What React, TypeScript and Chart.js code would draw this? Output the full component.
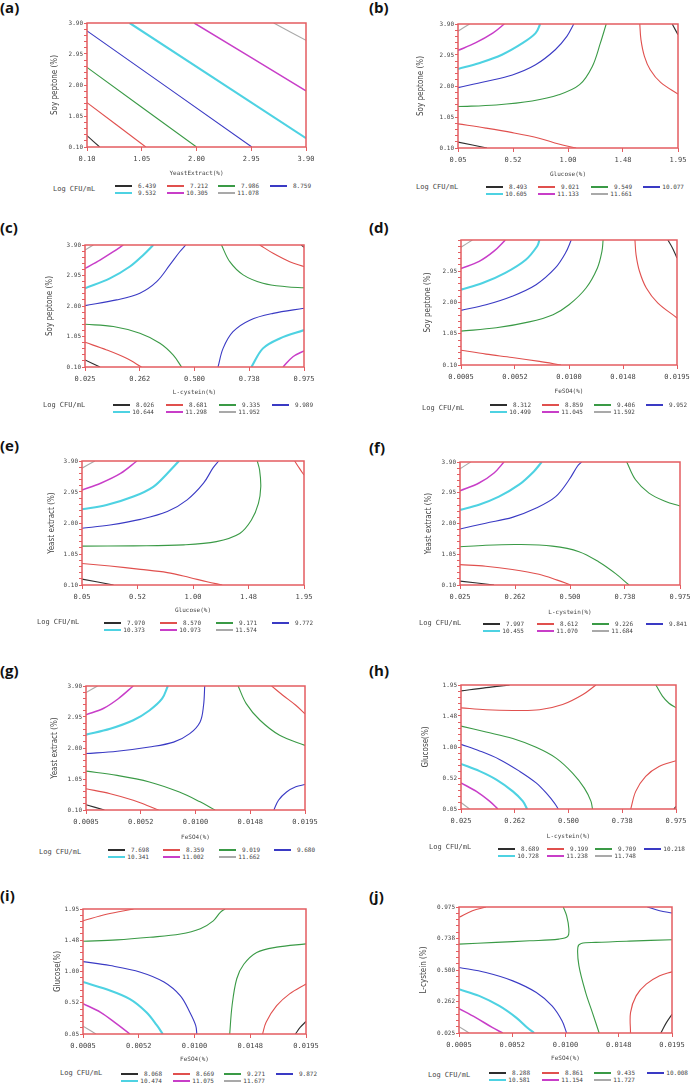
import React, { useEffect, useRef } from "react";
import { Chart, registerables } from "chart.js";
Chart.register(...registerables);

type Pt = [number, number];
type Contour = { level: number; pts: Pt[] };

// ---------- tick labels ----------
const soyPeptoneTicks = ["0.10", "1.05", "2.00", "2.95", "3.90"];
const yeastExtractTicks = ["0.10", "1.05", "2.00", "2.95", "3.90"];
const glucoseTicks = ["0.05", "0.52", "1.00", "1.48", "1.95"];
const cysteinTicks = ["0.025", "0.262", "0.500", "0.738", "0.975"];
const feso4Ticks = ["0.0005", "0.0052", "0.0100", "0.0148", "0.0195"];

// ---------- contour levels (Log CFU/mL) ----------
const levelsA = ["6.439", "7.212", "7.986", "8.759", "9.532", "10.305", "11.078"];
const levelsB = ["8.493", "9.021", "9.549", "10.077", "10.605", "11.133", "11.661"];
const levelsC = ["8.026", "8.681", "9.335", "9.989", "10.644", "11.298", "11.952"];
const levelsD = ["8.312", "8.859", "9.406", "9.952", "10.499", "11.045", "11.592"];
const levelsE = ["7.970", "8.570", "9.171", "9.772", "10.373", "10.973", "11.574"];
const levelsF = ["7.997", "8.612", "9.226", "9.841", "10.455", "11.070", "11.684"];
const levelsG = ["7.698", "8.359", "9.019", "9.680", "10.341", "11.002", "11.662"];
const levelsH = ["8.689", "9.199", "9.709", "10.218", "10.728", "11.238", "11.748"];
const levelsI = ["8.068", "8.669", "9.271", "9.872", "10.474", "11.075", "11.677"];
const levelsJ = ["8.288", "8.861", "9.435", "10.008", "10.581", "11.154", "11.727"];

// ---------- contour lines (x, y in data units) ----------
const linesA: Contour[] = [
  { level: 0, pts: [[0.10, 0.45], [0.32, 0.10]] },
  { level: 1, pts: [[0.10, 1.46], [1.12, 0.10]] },
  { level: 2, pts: [[0.10, 2.54], [2.00, 0.10]] },
  { level: 3, pts: [[0.10, 3.66], [2.96, 0.10]] },
  { level: 4, pts: [[0.84, 3.90], [3.90, 0.37]] },
  { level: 5, pts: [[1.96, 3.90], [3.90, 1.82]] },
  { level: 6, pts: [[3.34, 3.90], [3.90, 3.37]] },
];
const linesB: Contour[] = [
  { level: 0, pts: [[0.05, 0.28], [0.30, 0.10]] },
  { level: 0, pts: [[1.90, 3.90], [1.95, 3.57]] },
  { level: 1, pts: [[0.05, 0.84], [0.29, 0.71], [0.52, 0.57], [0.75, 0.40], [0.92, 0.22], [1.07, 0.10]] },
  { level: 1, pts: [[1.62, 3.90], [1.63, 3.42], [1.66, 2.91], [1.71, 2.50], [1.80, 2.11], [1.95, 1.75]] },
  { level: 2, pts: [[0.05, 1.37], [0.38, 1.42], [0.69, 1.54], [0.92, 1.73], [1.10, 2.04], [1.21, 2.60], [1.28, 3.32], [1.33, 3.90]] },
  { level: 3, pts: [[0.05, 1.95], [0.29, 2.14], [0.52, 2.34], [0.72, 2.65], [0.89, 3.11], [0.99, 3.52], [1.05, 3.90]] },
  { level: 4, pts: [[0.05, 2.52], [0.23, 2.70], [0.43, 2.96], [0.61, 3.32], [0.72, 3.62], [0.76, 3.90]] },
  { level: 5, pts: [[0.05, 3.09], [0.20, 3.32], [0.35, 3.62], [0.45, 3.90]] },
  { level: 6, pts: [[0.05, 3.68], [0.15, 3.90]] },
];
const linesC: Contour[] = [
  { level: 0, pts: [[0.025, 0.32], [0.090, 0.10]] },
  { level: 0, pts: [[0.963, 3.90], [0.975, 3.83]] },
  { level: 1, pts: [[0.025, 0.87], [0.119, 0.63], [0.205, 0.37], [0.270, 0.10]] },
  { level: 1, pts: [[0.783, 3.90], [0.841, 3.64], [0.913, 3.38], [0.975, 3.23]] },
  { level: 2, pts: [[0.025, 1.43], [0.148, 1.36], [0.263, 1.15], [0.350, 0.84], [0.408, 0.47], [0.444, 0.10]] },
  { level: 2, pts: [[0.617, 3.90], [0.653, 3.38], [0.711, 2.97], [0.797, 2.71], [0.898, 2.60], [0.975, 2.57]] },
  { level: 3, pts: [[0.025, 2.01], [0.162, 2.19], [0.263, 2.40], [0.336, 2.76], [0.393, 3.28], [0.436, 3.69], [0.462, 3.90]] },
  { level: 3, pts: [[0.602, 0.10], [0.624, 0.68], [0.667, 1.20], [0.740, 1.56], [0.841, 1.77], [0.975, 1.93]] },
  { level: 4, pts: [[0.025, 2.55], [0.133, 2.86], [0.220, 3.23], [0.278, 3.59], [0.321, 3.90]] },
  { level: 4, pts: [[0.747, 0.10], [0.797, 0.68], [0.870, 0.99], [0.975, 1.25]] },
  { level: 5, pts: [[0.025, 3.17], [0.090, 3.43], [0.148, 3.69], [0.191, 3.90]] },
  { level: 5, pts: [[0.884, 0.10], [0.927, 0.42], [0.975, 0.60]] },
  { level: 6, pts: [[0.025, 3.74], [0.061, 3.90]] },
];
const linesD: Contour[] = [
  { level: 0, pts: [[0.0187, 3.90], [0.0191, 3.66], [0.0195, 3.35]] },
  { level: 1, pts: [[0.0005, 0.55], [0.0027, 0.43], [0.0050, 0.33], [0.0074, 0.21], [0.0093, 0.10]] },
  { level: 1, pts: [[0.0158, 3.90], [0.0159, 3.45], [0.0162, 2.95], [0.0168, 2.44], [0.0178, 1.99], [0.0195, 1.53]] },
  { level: 2, pts: [[0.0005, 1.13], [0.0036, 1.23], [0.0065, 1.41], [0.0086, 1.63], [0.0100, 1.93], [0.0115, 2.44], [0.0125, 3.05], [0.0129, 3.56], [0.0130, 3.90]] },
  { level: 3, pts: [[0.0005, 1.76], [0.0027, 1.93], [0.0050, 2.19], [0.0071, 2.54], [0.0088, 3.05], [0.0097, 3.51], [0.0102, 3.90]] },
  { level: 4, pts: [[0.0005, 2.39], [0.0024, 2.59], [0.0044, 2.90], [0.0062, 3.30], [0.0072, 3.71], [0.0074, 3.90]] },
  { level: 5, pts: [[0.0005, 3.03], [0.0021, 3.25], [0.0034, 3.56], [0.0044, 3.90]] },
  { level: 6, pts: [[0.0005, 3.68], [0.0015, 3.90]] },
];
const linesE: Contour[] = [
  { level: 0, pts: [[0.05, 0.28], [0.32, 0.10]] },
  { level: 1, pts: [[0.05, 0.76], [0.29, 0.68], [0.55, 0.58], [0.78, 0.48], [0.97, 0.33], [1.12, 0.20], [1.25, 0.10]] },
  { level: 1, pts: [[1.87, 3.90], [1.91, 3.68], [1.95, 3.47]] },
  { level: 2, pts: [[0.05, 1.29], [0.49, 1.30], [0.92, 1.33], [1.20, 1.43], [1.40, 1.68], [1.50, 2.09], [1.56, 2.60], [1.58, 3.11], [1.57, 3.62], [1.55, 3.90]] },
  { level: 3, pts: [[0.05, 1.84], [0.29, 1.94], [0.55, 2.11], [0.78, 2.35], [0.95, 2.71], [1.09, 3.22], [1.17, 3.68], [1.22, 3.90]] },
  { level: 4, pts: [[0.05, 2.42], [0.26, 2.55], [0.49, 2.81], [0.66, 3.11], [0.78, 3.52], [0.88, 3.90]] },
  { level: 5, pts: [[0.05, 3.01], [0.21, 3.22], [0.38, 3.52], [0.52, 3.90]] },
  { level: 6, pts: [[0.05, 3.68], [0.16, 3.90]] },
];
const linesF: Contour[] = [
  { level: 0, pts: [[0.025, 0.22], [0.172, 0.10]] },
  { level: 1, pts: [[0.025, 0.73], [0.136, 0.68], [0.251, 0.58], [0.366, 0.43], [0.445, 0.25], [0.503, 0.10]] },
  { level: 2, pts: [[0.025, 1.28], [0.136, 1.33], [0.280, 1.35], [0.424, 1.30], [0.539, 1.13], [0.625, 0.81], [0.697, 0.45], [0.755, 0.10]] },
  { level: 2, pts: [[0.745, 3.90], [0.783, 3.35], [0.841, 2.94], [0.913, 2.68], [0.975, 2.54]] },
  { level: 3, pts: [[0.025, 1.83], [0.136, 2.01], [0.251, 2.19], [0.352, 2.47], [0.438, 2.83], [0.496, 3.35], [0.532, 3.77], [0.550, 3.90]] },
  { level: 4, pts: [[0.025, 2.42], [0.107, 2.58], [0.193, 2.83], [0.280, 3.20], [0.344, 3.61], [0.378, 3.90]] },
  { level: 5, pts: [[0.025, 3.01], [0.107, 3.25], [0.172, 3.56], [0.215, 3.90]] },
  { level: 6, pts: [[0.025, 3.69], [0.071, 3.90]] },
];
const linesG: Contour[] = [
  { level: 0, pts: [[0.0005, 0.26], [0.0021, 0.10]] },
  { level: 1, pts: [[0.0005, 0.75], [0.0026, 0.60], [0.0046, 0.40], [0.0058, 0.24], [0.0068, 0.10]] },
  { level: 1, pts: [[0.0166, 3.90], [0.0176, 3.61], [0.0187, 3.31], [0.0195, 3.05]] },
  { level: 2, pts: [[0.0005, 1.29], [0.0032, 1.16], [0.0060, 0.96], [0.0086, 0.65], [0.0104, 0.35], [0.0117, 0.10]] },
  { level: 2, pts: [[0.0137, 3.90], [0.0144, 3.36], [0.0156, 2.85], [0.0173, 2.39], [0.0195, 2.08]] },
  { level: 3, pts: [[0.0005, 1.83], [0.0032, 1.90], [0.0060, 2.03], [0.0081, 2.18], [0.0095, 2.44], [0.0104, 2.80], [0.0107, 3.31], [0.0108, 3.90]] },
  { level: 3, pts: [[0.0168, 0.10], [0.0172, 0.40], [0.0179, 0.65], [0.0187, 0.81], [0.0195, 0.88]] },
  { level: 4, pts: [[0.0005, 2.41], [0.0026, 2.59], [0.0046, 2.85], [0.0060, 3.15], [0.0071, 3.51], [0.0076, 3.90]] },
  { level: 5, pts: [[0.0005, 3.02], [0.0020, 3.21], [0.0033, 3.51], [0.0046, 3.90]] },
  { level: 6, pts: [[0.0005, 3.70], [0.0015, 3.90]] },
];
const linesH: Contour[] = [
  { level: 0, pts: [[0.025, 1.86], [0.136, 1.91], [0.240, 1.95]] },
  { level: 0, pts: [[0.966, 0.05], [0.975, 0.09]] },
  { level: 1, pts: [[0.025, 1.60], [0.136, 1.57], [0.254, 1.56], [0.372, 1.57], [0.474, 1.65], [0.562, 1.80], [0.621, 1.95]] },
  { level: 1, pts: [[0.775, 0.05], [0.797, 0.32], [0.841, 0.55], [0.900, 0.70], [0.975, 0.79]] },
  { level: 2, pts: [[0.025, 1.32], [0.136, 1.23], [0.254, 1.13], [0.357, 0.995], [0.445, 0.83], [0.518, 0.60], [0.570, 0.37], [0.599, 0.17], [0.606, 0.05]] },
  { level: 2, pts: [[0.886, 1.95], [0.915, 1.78], [0.944, 1.67], [0.975, 1.60]] },
  { level: 3, pts: [[0.025, 1.04], [0.107, 0.94], [0.195, 0.81], [0.283, 0.63], [0.357, 0.45], [0.408, 0.27], [0.438, 0.14], [0.455, 0.05]] },
  { level: 4, pts: [[0.025, 0.74], [0.107, 0.63], [0.181, 0.50], [0.254, 0.32], [0.298, 0.17], [0.317, 0.05]] },
  { level: 5, pts: [[0.025, 0.45], [0.093, 0.32], [0.151, 0.17], [0.188, 0.05]] },
  { level: 6, pts: [[0.025, 0.15], [0.063, 0.05]] },
];
const linesI: Contour[] = [
  { level: 0, pts: [[0.0186, 0.05], [0.0190, 0.15], [0.0195, 0.24]] },
  { level: 1, pts: [[0.0005, 1.77], [0.0025, 1.87], [0.0048, 1.95]] },
  { level: 1, pts: [[0.0158, 0.05], [0.0161, 0.23], [0.0170, 0.48], [0.0181, 0.66], [0.0195, 0.81]] },
  { level: 2, pts: [[0.0005, 1.46], [0.0034, 1.48], [0.0062, 1.52], [0.0088, 1.57], [0.0105, 1.65], [0.0116, 1.77], [0.0122, 1.90], [0.0126, 1.95]] },
  { level: 2, pts: [[0.0130, 0.05], [0.0132, 0.48], [0.0136, 0.89], [0.0142, 1.11], [0.0153, 1.29], [0.0170, 1.37], [0.0195, 1.42]] },
  { level: 3, pts: [[0.0005, 1.15], [0.0028, 1.09], [0.0054, 0.99], [0.0074, 0.84], [0.0088, 0.63], [0.0096, 0.38], [0.0101, 0.18], [0.0102, 0.05]] },
  { level: 4, pts: [[0.0005, 0.84], [0.0025, 0.73], [0.0045, 0.58], [0.0059, 0.38], [0.0068, 0.18], [0.0073, 0.05]] },
  { level: 5, pts: [[0.0005, 0.51], [0.0020, 0.38], [0.0034, 0.20], [0.0045, 0.05]] },
  { level: 6, pts: [[0.0005, 0.17], [0.0016, 0.05]] },
];
const linesJ: Contour[] = [
  { level: 0, pts: [[0.0185, 0.025], [0.0190, 0.103], [0.0195, 0.166]] },
  { level: 1, pts: [[0.0005, 0.897], [0.0017, 0.947], [0.0029, 0.975]] },
  { level: 1, pts: [[0.0158, 0.025], [0.0158, 0.179], [0.0163, 0.305], [0.0172, 0.393], [0.0184, 0.456], [0.0195, 0.486]] },
  { level: 2, pts: [[0.0005, 0.695], [0.0038, 0.708], [0.0068, 0.720], [0.0094, 0.733], [0.0102, 0.753], [0.0103, 0.809], [0.0101, 0.910], [0.0098, 0.975]] },
  { level: 2, pts: [[0.0195, 0.728], [0.0157, 0.718], [0.0127, 0.708], [0.0114, 0.700], [0.0111, 0.670], [0.0112, 0.531], [0.0118, 0.330], [0.0124, 0.179], [0.0130, 0.025]] },
  { level: 3, pts: [[0.0005, 0.519], [0.0029, 0.481], [0.0053, 0.418], [0.0074, 0.330], [0.0088, 0.229], [0.0097, 0.115], [0.0101, 0.025]] },
  { level: 3, pts: [[0.0173, 0.975], [0.0184, 0.947], [0.0195, 0.930]] },
  { level: 4, pts: [[0.0005, 0.355], [0.0023, 0.305], [0.0041, 0.229], [0.0056, 0.141], [0.0066, 0.065], [0.0072, 0.025]] },
  { level: 5, pts: [[0.0005, 0.209], [0.0020, 0.141], [0.0035, 0.065], [0.0044, 0.025]] },
  { level: 6, pts: [[0.0005, 0.073], [0.0014, 0.025]] },
];

// ---------- styling ----------
const levelColors = ["#2e2e2e", "#e0504e", "#3a9a46", "#3a3ac4", "#4ed2e2", "#c83ec8", "#a9a9a9"];
const levelWidths = [1.1, 1.1, 1.1, 1.1, 2.1, 1.5, 1.1];
const FRAME = "#e45c60";
const TEXT = "#444";
const MONO = "'DejaVu Sans Mono', 'Liberation Mono', monospace";
const NARROW = "'Liberation Sans Narrow', 'DejaVu Sans Condensed', 'Roboto Condensed', 'Liberation Sans', sans-serif";

const YW = 56; // y-axis box width
const PT = 8; // top padding
const PR = 18; // right padding
const XH = 34; // x-axis box height

type PanelSpec = {
  label: string;
  labelPos: [number, number];
  plot: [number, number, number, number];
  xTicks: string[];
  yTicks: string[];
  xTitle: string;
  yTitle: string;
  xTitleGap: number;
  yTitleGap: number;
  hideTopY?: boolean;
  levels: string[];
  lines: Contour[];
  legend: { logX: number; logY: number; itemsX: number; col: number; row1: number; row2: number };
};

const panels: PanelSpec[] = [
  { label: "(a)", labelPos: [0, -3], plot: [87, 23, 306, 147], xTicks: yeastExtractTicks, yTicks: soyPeptoneTicks, xTitle: "YeastExtract(%)", yTitle: "Soy peptone (%)", xTitleGap: 26, yTitleGap: 32, levels: levelsA, lines: linesA, legend: { logX: 53, logY: 189, itemsX: 115, col: 51.7, row1: 186, row2: 193 } },
  { label: "(b)", labelPos: [369, -3], plot: [458, 24, 678, 148], xTicks: glucoseTicks, yTicks: soyPeptoneTicks, xTitle: "Glucose(%)", yTitle: "Soy peptone (%)", xTitleGap: 26, yTitleGap: 37, levels: levelsB, lines: linesB, legend: { logX: 416, logY: 187, itemsX: 486, col: 52.3, row1: 187, row2: 194 } },
  { label: "(c)", labelPos: [0, 217], plot: [85, 245, 304, 367], xTicks: cysteinTicks, yTicks: soyPeptoneTicks, xTitle: "L-cystein(%)", yTitle: "Soy peptone (%)", xTitleGap: 25, yTitleGap: 35, levels: levelsC, lines: linesC, legend: { logX: 43, logY: 405, itemsX: 113, col: 53, row1: 405, row2: 412 } },
  { label: "(d)", labelPos: [369, 217], plot: [461, 240, 677, 365], xTicks: feso4Ticks, yTicks: soyPeptoneTicks, xTitle: "FeSO4(%)", yTitle: "Soy peptone (%)", xTitleGap: 26, yTitleGap: 33, hideTopY: true, levels: levelsD, lines: linesD, legend: { logX: 422, logY: 408, itemsX: 490, col: 52, row1: 405, row2: 412 } },
  { label: "(e)", labelPos: [0, 435], plot: [82, 461, 304, 585], xTicks: glucoseTicks, yTicks: yeastExtractTicks, xTitle: "Glucose(%)", yTitle: "Yeast extract (%)", xTitleGap: 25, yTitleGap: 30, levels: levelsE, lines: linesE, legend: { logX: 37, logY: 622, itemsX: 104, col: 56, row1: 623, row2: 630 } },
  { label: "(f)", labelPos: [369, 437], plot: [460, 462, 680, 585], xTicks: cysteinTicks, yTicks: yeastExtractTicks, xTitle: "L-cystein(%)", yTitle: "Yeast extract (%)", xTitleGap: 27, yTitleGap: 31, levels: levelsF, lines: linesF, legend: { logX: 419, logY: 623, itemsX: 483, col: 54.3, row1: 624, row2: 631 } },
  { label: "(g)", labelPos: [0, 660], plot: [86, 686, 305, 810], xTicks: feso4Ticks, yTicks: yeastExtractTicks, xTitle: "FeSO4(%)", yTitle: "Yeast extract (%)", xTitleGap: 27, yTitleGap: 31, levels: levelsG, lines: linesG, legend: { logX: 39, logY: 852, itemsX: 108, col: 55.3, row1: 850, row2: 857 } },
  { label: "(h)", labelPos: [369, 660], plot: [461, 685, 676, 809], xTicks: cysteinTicks, yTicks: glucoseTicks, xTitle: "L-cystein(%)", yTitle: "Glucose(%)", xTitleGap: 27, yTitleGap: 35, levels: levelsH, lines: linesH, legend: { logX: 429, logY: 847, itemsX: 498, col: 48.7, row1: 849, row2: 856 } },
  { label: "(i)", labelPos: [0, 885], plot: [83, 909, 306, 1034], xTicks: feso4Ticks, yTicks: glucoseTicks, xTitle: "FeSO4(%)", yTitle: "Glucose(%)", xTitleGap: 25, yTitleGap: 25, levels: levelsI, lines: linesI, legend: { logX: 60, logY: 1073, itemsX: 121, col: 51.7, row1: 1074, row2: 1081 } },
  { label: "(j)", labelPos: [369, 886], plot: [459, 907, 672, 1033], xTicks: feso4Ticks, yTicks: cysteinTicks, xTitle: "FeSO4(%)", yTitle: "L-cystein (%)", xTitleGap: 25, yTitleGap: 35, levels: levelsJ, lines: linesJ, legend: { logX: 428, logY: 1075, itemsX: 489, col: 52.7, row1: 1073, row2: 1080 } },
];

const framePlugin = {
  id: "frame",
  afterDraw(chart: any) {
    const { ctx, chartArea } = chart;
    const { left, top, right, bottom } = chartArea;
    ctx.save();
    ctx.strokeStyle = FRAME;
    ctx.lineWidth = 1.5;
    ctx.strokeRect(left, top, right - left, bottom - top);
    ctx.restore();
  },
};

function tickRange(labels: string[]) {
  const min = parseFloat(labels[0]);
  const max = parseFloat(labels[labels.length - 1]);
  return { min, max };
}

function ContourPanel({ p }: { p: PanelSpec }) {
  const ref = useRef<HTMLCanvasElement>(null);
  const [L, T, R, B] = p.plot;
  const W = R - L + YW + PR;
  const H = B - T + PT + XH;

  useEffect(() => {
    const xr = tickRange(p.xTicks);
    const yr = tickRange(p.yTicks);
    const xVals = p.xTicks.map((_, i) => xr.min + ((xr.max - xr.min) * i) / 4);
    const yVals: number[] = [];
    for (let i = 0; i <= 20; i++) yVals.push(yr.min + ((yr.max - yr.min) * i) / 20);
    const titleFontY = 8;
    const titleFontX = 6;
    const chart = new Chart(ref.current as HTMLCanvasElement, {
      type: "line",
      data: {
        datasets: p.lines.map((ln) => ({
          data: ln.pts.map(([x, y]) => ({ x, y })),
          borderColor: levelColors[ln.level],
          borderWidth: levelWidths[ln.level],
          pointRadius: 0,
          tension: 0.35,
          fill: false,
        })),
      },
      options: {
        animation: false,
        responsive: false,
        maintainAspectRatio: false,
        events: [],
        layout: { padding: { top: PT, right: PR, left: 0, bottom: 0 } },
        plugins: { legend: { display: false }, tooltip: { enabled: false } },
        scales: {
          x: {
            type: "linear",
            min: xr.min,
            max: xr.max,
            afterBuildTicks: (s: any) => {
              s.ticks = xVals.map((v) => ({ value: v }));
            },
            afterFit: (s: any) => {
              s.height = XH;
            },
            ticks: {
              autoSkip: false,
              maxRotation: 0,
              padding: 4,
              color: TEXT,
              font: { family: MONO, size: 7 },
              callback: (_v: any, i: number) => p.xTicks[i],
            },
            grid: { drawOnChartArea: false, drawTicks: true, tickLength: 4, color: FRAME },
            border: { display: false },
            title: {
              display: true,
              text: p.xTitle,
              color: TEXT,
              font: { family: MONO, size: titleFontX },
              padding: { top: 0, bottom: XH - p.xTitleGap - (titleFontX * 1.2) / 2 },
            },
          },
          y: {
            type: "linear",
            min: yr.min,
            max: yr.max,
            afterBuildTicks: (s: any) => {
              s.ticks = yVals.map((v) => ({ value: v }));
            },
            afterFit: (s: any) => {
              s.width = YW;
            },
            ticks: {
              autoSkip: false,
              padding: 1,
              color: TEXT,
              font: { family: MONO, size: 6 },
              callback: (_v: any, i: number) => {
                if (i % 5 !== 0) return "";
                if (p.hideTopY && i === 20) return "";
                return p.yTicks[i / 5];
              },
            },
            grid: { drawOnChartArea: false, drawTicks: true, tickLength: 3, color: FRAME },
            border: { display: false },
            title: {
              display: true,
              text: p.yTitle,
              color: TEXT,
              font: { family: NARROW, size: titleFontY },
              padding: { top: YW - p.yTitleGap - (titleFontY * 1.2) / 2, bottom: 0 },
            },
          },
        },
      },
      plugins: [framePlugin],
    } as any);
    return () => chart.destroy();
  }, []);

  const lg = p.legend;
  const items = p.levels.map((lv, i) => {
    const row = i < 4 ? 0 : 1;
    const c = i < 4 ? i : i - 4;
    const x = Math.round(lg.itemsX + c * lg.col);
    const y = row === 0 ? lg.row1 : lg.row2;
    const w = levelWidths[i];
    return (
      <React.Fragment key={lv}>
        <div style={{ position: "absolute", left: x, top: y - w / 2, width: 17, height: w, background: levelColors[i] }} />
        <div style={{ position: "absolute", left: x + 14, top: y - 4, width: 27, height: 8, lineHeight: "8px", fontFamily: MONO, fontSize: 6, color: TEXT, textAlign: "right", whiteSpace: "nowrap" }}>{lv}</div>
      </React.Fragment>
    );
  });

  return (
    <>
      <div style={{ position: "absolute", left: p.labelPos[0], top: p.labelPos[1], fontFamily: "'Open Sans', 'Noto Sans', sans-serif", fontWeight: 700, fontSize: 15, lineHeight: "20px", color: "#111" }}>{p.label}</div>
      <canvas ref={ref} width={W} height={H} style={{ position: "absolute", left: L - YW, top: T - PT, width: W, height: H }} />
      <div style={{ position: "absolute", left: lg.logX, top: lg.logY - 5, height: 10, lineHeight: "10px", fontFamily: MONO, fontSize: 7, color: TEXT, whiteSpace: "nowrap" }}>Log CFU/mL</div>
      {items}
    </>
  );
}

export default function App() {
  return (
    <div style={{ position: "absolute", left: 0, top: 0, width: 692, height: 1086, background: "#fff", overflow: "hidden" }}>
      {panels.map((p) => (
        <ContourPanel key={p.label} p={p} />
      ))}
    </div>
  );
}
